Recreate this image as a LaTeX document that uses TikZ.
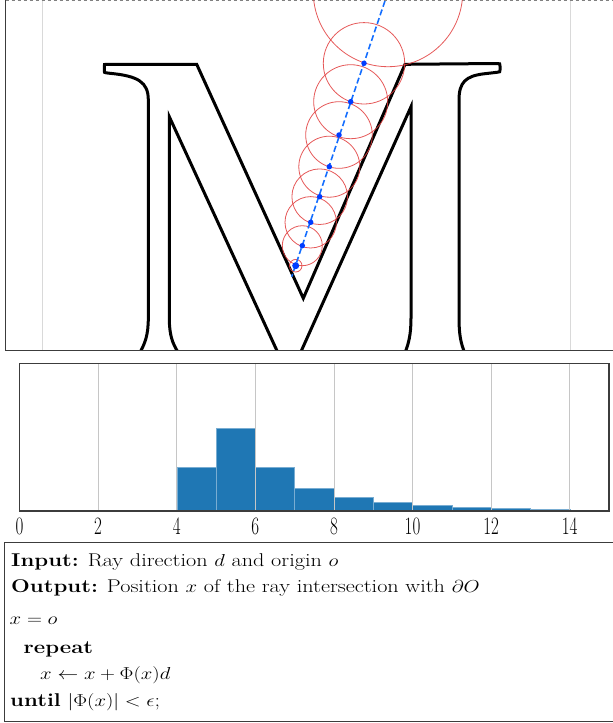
\documentclass[tikz,border=0pt]{standalone}
\usepackage{tikz}
\usetikzlibrary{positioning}
\definecolor{tabblue}{RGB}{31,119,180}
\definecolor{rayblue}{RGB}{20,110,255}
\definecolor{dotblue}{RGB}{0,60,255}
\definecolor{sdfred}{RGB}{225,60,60}
\definecolor{framegray}{RGB}{60,60,60}
\newcommand\Xu{39.3}
\newcommand\Xo{19.5}
\tikzset{
  glyph/.style={
    line width = 3pt,
    black
  },
  sdfcircle/.style={
    draw = sdfred,
    line width = 0.8pt,
    opacity = 0.85
  },
  ray/.style={
    rayblue,
    line width = 1.6pt,
    dash pattern = on 6pt off 3pt
  },
  hit/.style={
    circle,
    fill = dotblue,
    inner sep = 0pt,
    minimum size = 5.5pt
  },
  panel/.style={
    framegray,
    line width = 1.3pt
  },
  gridline/.style={
    gray!30,
    line width = 0.8pt
  },
  histbar/.style={
    fill = tabblue,
    draw = tabblue!60!white,
    line width = 0.4pt
  },
  ticklabel/.style={
    font = \fontsize{25}{25}\selectfont,
    xscale = 0.68,
    anchor = base,
    inner sep = 0pt
  },
  algo/.style={
    anchor = base west,
    inner sep = 0pt,
    xscale = 1.2,
    font = \fontsize{18.5}{20}\selectfont
  }
}

\begin{document}
\begin{tikzpicture}[x=1pt,y=-1pt]
  \useasboundingbox (0,0) rectangle (613,723);

  % top panel
  \draw[gridline] (42.3,0) -- (42.3,350.7);
  \draw[gridline] (570.3,0) -- (570.3,350.7);
  \draw[gray, line width=0.8pt, dashed] (5.5,0.5) -- (613,0.5);

  \begin{scope}
    \clip (5.5,0) rectangle (613,350.5);
    % glyph M
    \draw[glyph] (139,356) -- (140.7,351) .. controls (145,343) and (148.3,335) .. (148.3,318)
      -- (148.3,100) .. controls (148.3,82) and (138,76) .. (110,73.3)
      -- (106,72.8) .. controls (104.3,72.5) .. (104.3,70.5) -- (104.3,66)
      .. controls (104.3,64.3) .. (106,64.3) -- (196.7,64.3) -- (303.3,298.3)
      -- (405,64.3) -- (497,63.5) .. controls (500,63.5) .. (500,66) -- (500,70)
      .. controls (500,72) .. (497,72.3) -- (484,73.8) .. controls (466,76) and (459,82) .. (459,100)
      -- (459,318) .. controls (459,335) and (461,343) .. (464,351) -- (465.5,356);
    \draw[glyph] (404.5,356) -- (405.7,351) .. controls (408.5,343) and (411,335) .. (411,318)
      -- (411,106.7) -- (299,356);
    \draw[glyph] (279.4,356) -- (169.3,116.7) -- (169.3,318)
      .. controls (169.3,335) and (172.5,343) .. (177.3,351) -- (179,356);

    % sphere tracing steps
    \foreach \px/\py/\r in {388/-8/74.7, 364/63.3/40.7, 350.7/101.7/37, 339/135/33.3,
        329.3/166.7/30.5, 319.7/196.7/27.8, 310.7/222.3/25.7, 302.3/245.7/20, 295.7/265.7/6.3}
      \draw[sdfcircle] (\px,\py) circle[radius=\r];

    \coordinate (rayTop) at (390.7,-16);
    \coordinate (rayEnd) at (291.7,276.7);
    \draw[ray] (rayTop) -- (rayEnd);

    \foreach \px/\py [count=\i] in {364/63.3, 350.7/101.7, 339/135, 329.3/166.7,
        319.7/196.7, 310.7/222.3, 302.3/245.7}
      \node[hit] (p\i) at (\px,\py) {};
    \node[hit, minimum size=7pt] (pLast) at (295.7,265.7) {};
  \end{scope}
  \draw[panel] (5.5,0) -- (5.5,350.7) -- (613,350.7);

  % histogram
  \foreach \v/\h in {4/43.5,5/83.3,6/43.5,7/23,8/13.4,9/8.7,10/5.7,11/4,12/3,13/2,14/1.3}
    \draw[histbar] ({\Xo+\v*\Xu},511) rectangle ({\Xo+(\v+1)*\Xu},{511-\h});
  \foreach \v in {2,4,...,14}
    \draw[gridline, gray!45] ({\Xo+\v*\Xu},363.5) -- ({\Xo+\v*\Xu},511);
  \draw[panel] (\Xo,363.5) rectangle (609,511);
  \foreach \v in {0,2,...,14}
    \node[ticklabel] (tk\v) at ({\Xo+\v*\Xu},534) {\v};

  % algorithm
  \draw[panel, line width=1pt] (613,542.5) -- (4,542.5) -- (4,721) -- (613,721);
  \node[algo] (lnIn) at (11,566) {\textbf{Input:} Ray direction $d$ and origin $o$};
  \node[algo] (lnOut) at (11,592) {\textbf{Output:} Position $x$ of the ray intersection with $\partial O$};
  \node[algo] (lnInit) at (9.5,624.5) {$x = o$};
  \node[algo] (lnRep) at (23.5,653) {\textbf{repeat}};
  \node[algo] (lnStep) at (40,679) {$x \leftarrow x + \Phi(x) d$};
  \node[algo] (lnUntil) at (10,706) {\textbf{until} $|\Phi(x)| < \epsilon$;};
\end{tikzpicture}
\end{document}
